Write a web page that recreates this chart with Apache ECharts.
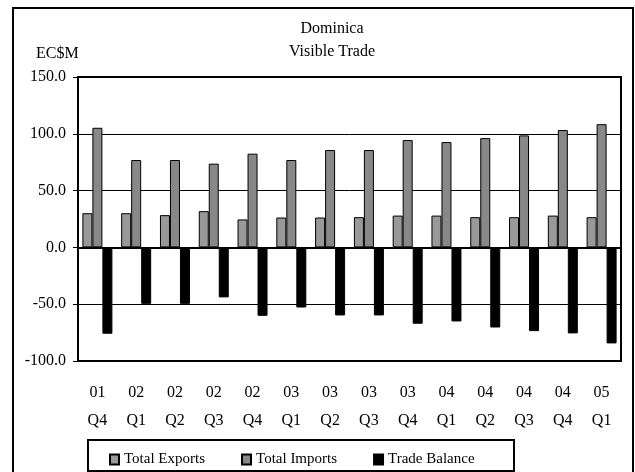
<!DOCTYPE html>
<html lang="en">
<head>
	<meta charset="UTF-8">
	<title>Dominica Visible Trade</title>
	<script src="https://cdn.jsdelivr.net/npm/echarts@6/dist/echarts.min.js"></script>
	<style>
		html, body { margin: 0; padding: 0; background: #fff; }
		#main { width: 635px; height: 472px; }
	</style>
</head>
<body>
	<div id="main"></div>
<script type="text/javascript">
	// quarters (year / quarter)
	var quarters = ['01\nQ4', '02\nQ1', '02\nQ2', '02\nQ3', '02\nQ4', '03\nQ1', '03\nQ2',
		'03\nQ3', '03\nQ4', '04\nQ1', '04\nQ2', '04\nQ3', '04\nQ4', '05\nQ1'];
	var totalExports = [30.1, 30.1, 28.4, 31.9, 24.6, 26.3, 26.3, 26.6, 28.0, 28.0, 26.6, 26.6, 28.0, 26.6];
	var totalImports = [105.3, 76.9, 76.9, 73.7, 82.5, 76.9, 85.7, 85.7, 94.5, 92.7, 96.2, 98.6, 103.3, 108.5];
	var tradeBalance = [-76.0, -49.7, -49.7, -44.0, -60.2, -52.9, -59.9, -59.9, -67.2, -65.2, -70.5, -73.7, -75.7, -84.5];

	var font = 'Liberation Serif';
	var myChart = echarts.init(document.getElementById('main'));

	myChart.setOption({
		backgroundColor: '#fff',
		animation: false,
		title: [
			{
				text: 'Dominica\nVisible Trade',
				left: 327,
				top: 12,
				textAlign: 'center',
				textStyle: { fontFamily: font, fontSize: 16, fontWeight: 'normal', color: '#000', lineHeight: 23 }
			},
			{
				text: 'EC$M',
				left: 31,
				top: 41,
				textStyle: { fontFamily: font, fontSize: 16, fontWeight: 'normal', color: '#000' }
			}
		],
		graphic: [
			{
				type: 'rect',
				shape: { x: 13, y: 8, width: 620, height: 470 },
				style: { fill: null, stroke: '#000', lineWidth: 2 },
				silent: true
			},
			{
				type: 'rect',
				shape: { x: 88, y: 440, width: 426, height: 31 },
				style: { fill: null, stroke: '#000', lineWidth: 2 },
				silent: true
			}
		],
		legend: {
			left: 104,
			top: 447,
			itemWidth: 9,
			itemHeight: 10,
			itemGap: 36,
			icon: 'rect',
			textStyle: { fontFamily: font, fontSize: 15, color: '#000' },
			data: ['Total Exports', 'Total Imports', 'Trade Balance']
		},
		grid: {
			left: 78,
			right: 14,
			top: 77,
			bottom: 111,
			show: true,
			borderColor: '#000',
			borderWidth: 2,
			backgroundColor: 'transparent'
		},
		xAxis: {
			type: 'category',
			data: quarters,
			axisLine: { show: false, onZero: false },
			axisTick: { show: false },
			axisLabel: {
				fontFamily: font, fontSize: 16, color: '#000',
				lineHeight: 28, margin: 18, interval: 0
			}
		},
		yAxis: {
			type: 'value',
			min: -100,
			max: 150,
			interval: 50,
			axisLine: { show: true, lineStyle: { color: '#000', width: 2 } },
			axisTick: { show: true, length: 5, lineStyle: { color: '#000', width: 1 } },
			axisLabel: {
				fontFamily: font, fontSize: 16, color: '#000', margin: 12,
				formatter: function (v) { return v.toFixed(1); }
			},
			splitLine: { show: true, lineStyle: { color: '#000', width: 1 } }
		},
		series: [
			{
				name: 'Total Exports',
				type: 'bar',
				data: totalExports,
				barWidth: 10,
				barGap: '0%',
				itemStyle: { color: '#999999', borderColor: '#000', borderWidth: 1 },
				markLine: {
					silent: true,
					symbol: 'none',
					label: { show: false },
					lineStyle: { color: '#000', width: 2, type: 'solid' },
					data: [{ yAxis: 0 }]
				}
			},
			{
				name: 'Total Imports',
				type: 'bar',
				data: totalImports,
				barWidth: 10,
				barGap: '0%',
				itemStyle: { color: '#888888', borderColor: '#000', borderWidth: 1 }
			},
			{
				name: 'Trade Balance',
				type: 'bar',
				data: tradeBalance,
				barWidth: 10,
				barGap: '0%',
				itemStyle: { color: '#000', borderColor: '#000', borderWidth: 1 }
			}
		]
	});
</script>
</body>
</html>
